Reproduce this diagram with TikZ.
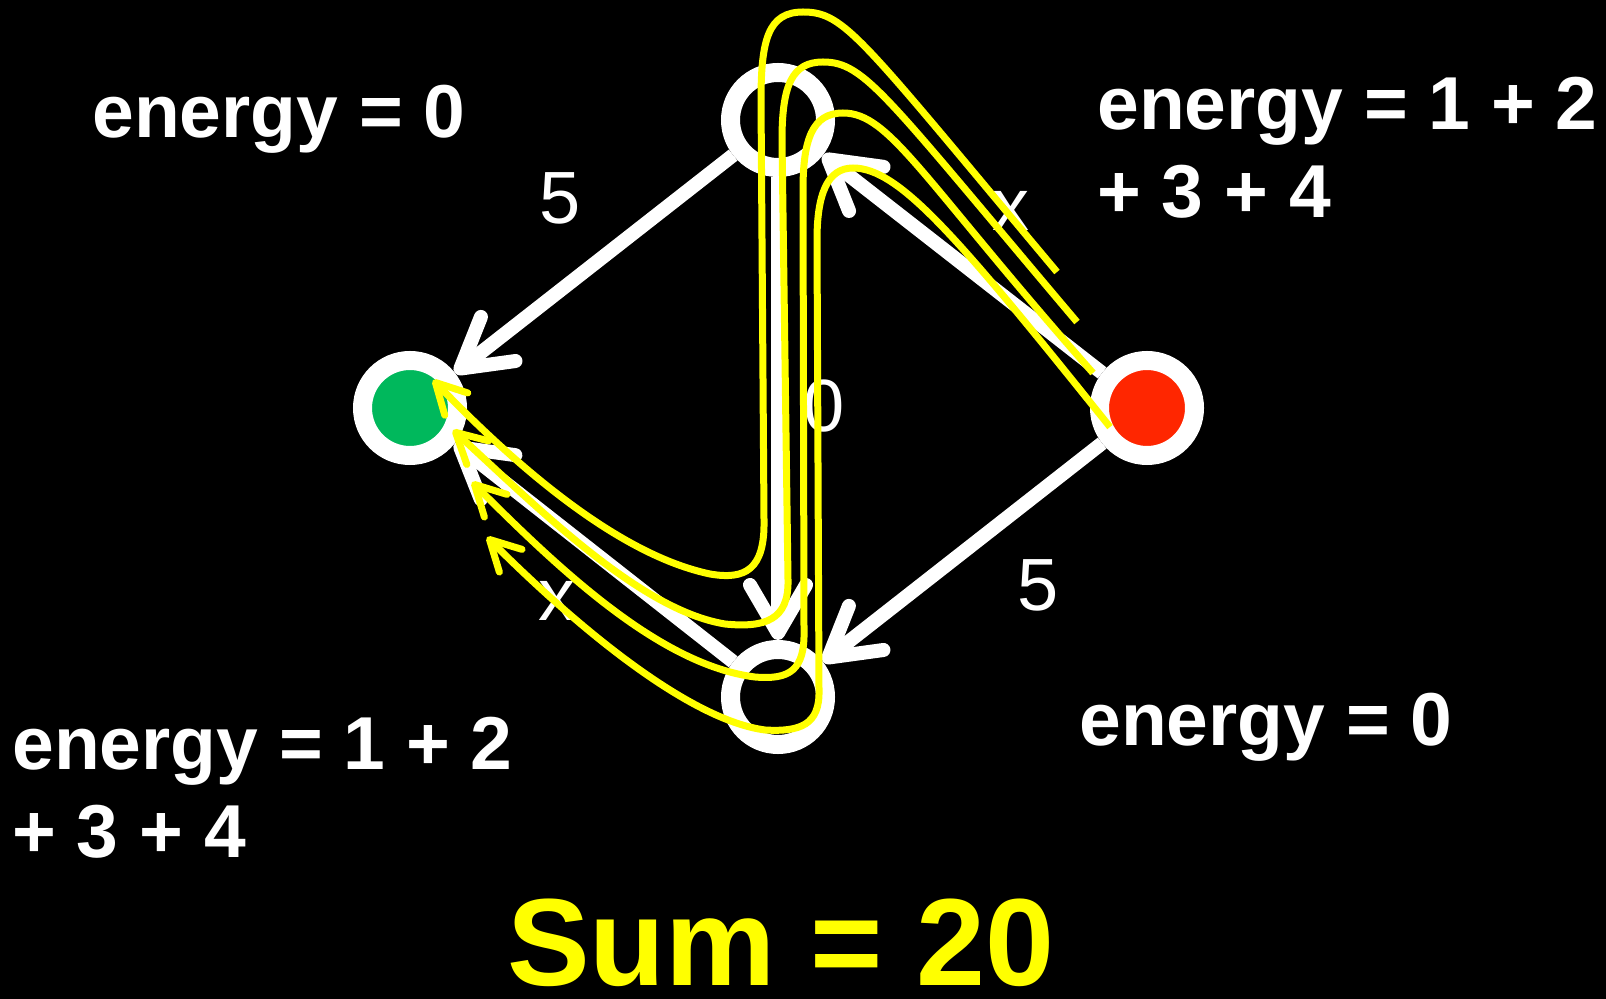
\documentclass[tikz,border=0pt]{standalone}
\usepackage{fontspec}
\setmainfont{Liberation Sans}
\usetikzlibrary{arrows.meta}
\definecolor{nodegreen}{HTML}{00B85C}
\definecolor{nodered}{HTML}{FF2600}
\definecolor{walkyellow}{HTML}{FFFF00}

\begin{document}
\begin{tikzpicture}[x=0.5pt, y=-0.5pt,
  nd/.style={circle, draw=white, line width=9.5pt, minimum size=47.5pt, inner sep=0pt},
  ed/.style={white, line width=7pt, -{Straight Barb[length=24pt,width=28pt,round]}},
  el/.style={text=white, font=\fontsize{37}{44}\selectfont, inner sep=0pt},
  txt/.style={text=white, font=\fontsize{37.5}{44}\selectfont\bfseries, anchor=base west,
              inner sep=0pt, align=left},
  yw/.style={walkyellow, line width=3.5pt, -{Straight Barb[length=15pt,width=16pt,round]}}]
\useasboundingbox (0,0) rectangle (1606,999);
\fill[black] (0,0) rectangle (1606,999);
\node[nd, fill=black] (top) at (778,120) {};
\node[nd, fill=black] (bot) at (778,697) {};
\node[nd, fill=nodegreen] (green) at (410,408) {};
\node[nd, fill=nodered] (red) at (1147,408) {};
\draw[ed] (top) -- (green);
\draw[ed] (red) -- (top);
\draw[ed] (red) -- (bot);
\draw[ed] (top) -- (bot);
\draw[ed] (bot) -- (green);
\node[el] (w1) at (560,198) {5};
\node[el] (w2) at (1011,211) {x};
\node[el] (w3) at (1038,585) {5};
\node[el] (w4) at (824,406) {0};
\node[el] (w5) at (557,601) {x};
% energy of each node
\node[txt] (en1) at (92,138) {energy = 0};
\node[txt] (en2) at (1097,218) {energy = 1 + 2\\+ 3 + 4};
\node[txt] (en3) at (12,857) {energy = 1 + 2\\+ 3 + 4};
\node[txt] (en4) at (1079,745) {energy = 0};
\node[text=walkyellow, font=\fontsize{62}{66}\selectfont\bfseries, anchor=base, inner sep=0pt]
     (sum) at (781,985) {Sum = 20};
% the four walks
\coordinate (s1) at (1057,272); \coordinate (e1) at (433,380);
\coordinate (s2) at (1077,322); \coordinate (e2) at (453,430);
\coordinate (s3) at (1093,373); \coordinate (e3) at (472,482);
\coordinate (s4) at (1110,427); \coordinate (e4) at (487,537);
\draw[yw] (s1) .. controls (860,37) and (845,12) .. (803,12)
  .. controls (768,12) and (761,40) .. (761,100) -- (764,520)
  .. controls (765,570) and (745,580) .. (710,574)
  .. controls (620,555) and (520,470) .. (e1);
\draw[yw] (s2) .. controls (885,95) and (865,62) .. (823,62)
  .. controls (792,62) and (782,85) .. (782,140) -- (788,580)
  .. controls (789,620) and (765,628) .. (725,624)
  .. controls (640,610) and (540,510) .. (e2);
\draw[yw] (s3) .. controls (921,178) and (890,113) .. (843,113)
  .. controls (812,113) and (803,140) .. (803,190) -- (804,630)
  .. controls (805,670) and (790,680) .. (755,677)
  .. controls (660,665) and (560,570) .. (e3);
\draw[yw] (s4) .. controls (960,240) and (900,168) .. (853,168)
  .. controls (827,168) and (817,195) .. (817,240) -- (819,690)
  .. controls (820,725) and (800,732) .. (765,730)
  .. controls (690,720) and (580,630) .. (e4);
\end{tikzpicture}
\end{document}
